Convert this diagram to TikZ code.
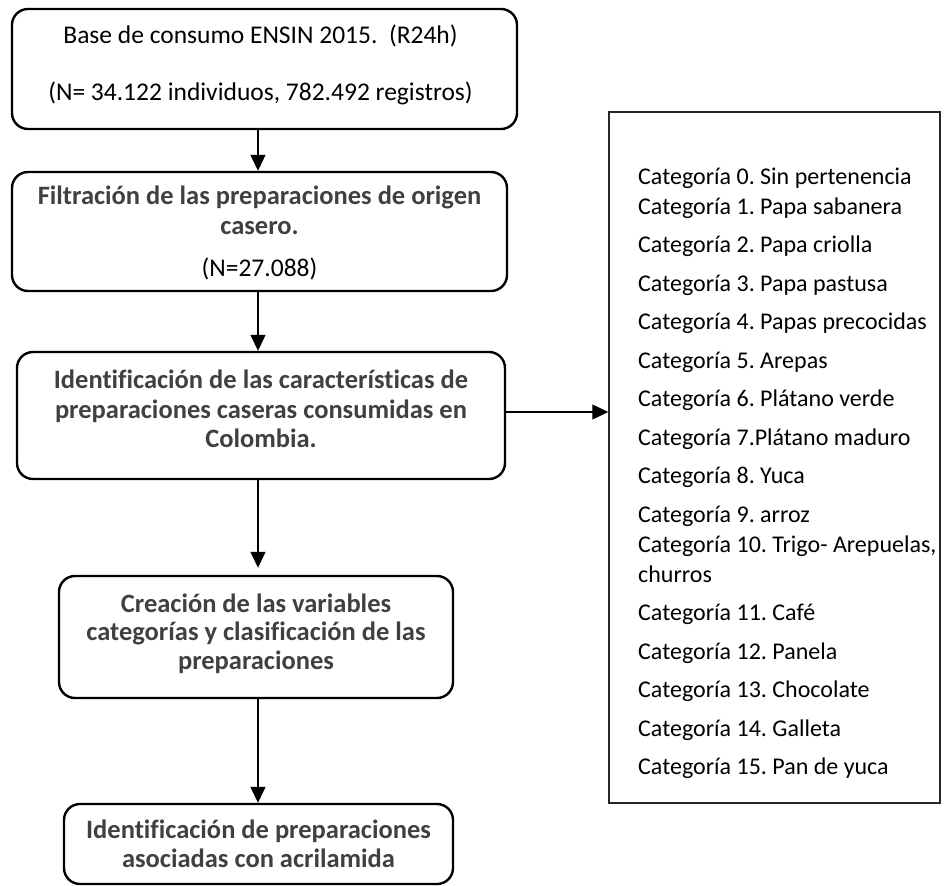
\documentclass[tikz,border=0pt]{standalone}
\usepackage{fontspec}
\setmainfont{Carlito}[Ligatures=NoCommon]
\frenchspacing
\usetikzlibrary{arrows.meta}
\definecolor{boldgray}{HTML}{404040}
\begin{document}
\begin{tikzpicture}[x=1pt,y=-1pt,
  flowbox/.style={draw=black, line width=2.4pt, rounded corners=16pt, inner sep=0pt},
  listbox/.style={draw=black!85, line width=1.4pt, inner sep=0pt},
  reg/.style={font=\fontsize{25.5}{30}\selectfont, anchor=base, text=black, inner sep=0pt},
  strong/.style={font=\fontsize{26.5}{30}\selectfont\bfseries, anchor=base, text=boldgray, inner sep=0pt},
  item/.style={font=\fontsize{24}{28}\selectfont, anchor=base west, inner sep=0pt},
  flow/.style={line width=1.3pt, -{Triangle[length=16pt,width=15pt]}}
]
\useasboundingbox (0,0) rectangle (948,886);

% process boxes
\node[flowbox, minimum width=505pt, minimum height=120pt] (b1) at (264.5,69) {};
\node[flowbox, minimum width=495pt, minimum height=119pt] (b2) at (259.5,231.5) {};
\node[flowbox, minimum width=488pt, minimum height=127pt] (b3) at (261,415.5) {};
\node[flowbox, minimum width=394pt, minimum height=122pt] (b4) at (256,637) {};
\node[flowbox, minimum width=389pt, minimum height=80pt] (b5) at (258.5,844) {};

% category list
\node[listbox, minimum width=331pt, minimum height=691pt] (list) at (774.5,457.5) {};

% box texts
\coordinate (tx1) at (260.5,0);
\node[reg] (t1a) at (tx1 |- 0,43) {Base de consumo ENSIN 2015.~~(R24h)};
\node[reg] (t1b) at (tx1 |- 0,100) {(N= 34.122 individuos, 782.492 registros)};

\node[strong] (t2a) at (b2.center |- 0,204) {Filtración de las preparaciones de origen};
\node[strong] (t2b) at (b2.center |- 0,234) {casero.};
\node[reg] (t2c) at (b2.center |- 0,276) {(N=27.088)};

\node[strong] (t3a) at (b3.center |- 0,388) {Identificación de las características de};
\node[strong] (t3b) at (b3.center |- 0,418) {preparaciones caseras consumidas en};
\node[strong] (t3c) at (b3.center |- 0,447) {Colombia.};

\node[strong] (t4a) at (b4.center |- 0,612) {Creación de las variables};
\node[strong] (t4b) at (b4.center |- 0,640) {categorías y clasificación de las};
\node[strong] (t4c) at (b4.center |- 0,669) {preparaciones};

\node[strong] (t5a) at (b5.center |- 0,838) {Identificación de preparaciones};
\node[strong] (t5b) at (b5.center |- 0,867) {asociadas con acrilamida};

% category entries
\coordinate (lx) at (638,0);
\foreach \n/\yb/\txt in {
  0/184/{Categoría 0. Sin pertenencia},
  1/214/{Categoría 1. Papa sabanera},
  2/252.5/{Categoría 2. Papa criolla},
  3/291/{Categoría 3. Papa pastusa},
  4/329.5/{Categoría 4. Papas precocidas},
  5/368/{Categoría 5. Arepas},
  6/406.5/{Categoría 6. Plátano verde},
  7/445/{Categoría 7.Plátano maduro},
  8/483.5/{Categoría 8. Yuca},
  9/522/{Categoría 9. arroz},
  10/552/{Categoría 10. Trigo- Arepuelas,},
  10b/582/{churros},
  11/620.5/{Categoría 11. Café},
  12/659/{Categoría 12. Panela},
  13/697.5/{Categoría 13. Chocolate},
  14/736/{Categoría 14. Galleta},
  15/774.5/{Categoría 15. Pan de yuca}}
  \node[item] (c\n) at (lx |- 0,\yb) {\txt};

% connectors
\coordinate (ax) at (258,0);
\coordinate (hy) at (0,412);
\draw[flow] (b1.south -| ax) -- (b2.north -| ax);
\draw[flow] (b2.south -| ax) -- (b3.north -| ax);
\draw[flow, shorten >=7pt] (b3.south -| ax) -- (b4.north -| ax);
\draw[flow] (b4.south -| ax) -- (b5.north -| ax);
\draw[flow] (b3.east |- hy) -- (list.west |- hy);
\end{tikzpicture}
\end{document}
